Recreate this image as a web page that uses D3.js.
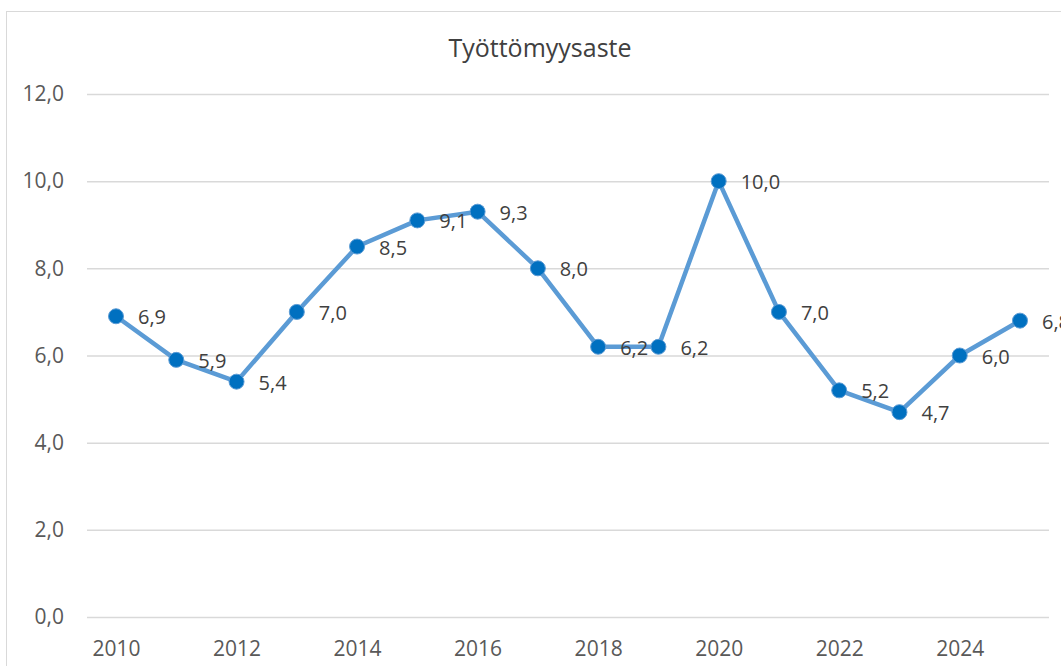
<!DOCTYPE html>
<html>
<head>
<meta charset="utf-8">
<script src="https://cdn.jsdelivr.net/npm/d3@7"></script>
<style>
  body { margin: 0; background: #fff; }
  svg { display: block; font-family: "Open Sans", "Noto Sans", sans-serif; }
</style>
</head>
<body>
<svg id="chart" width="1061" height="666"></svg>
<script>
// Data
const years = [2010, 2011, 2012, 2013, 2014, 2015, 2016, 2017, 2018, 2019, 2020, 2021, 2022, 2023, 2024, 2025];
const rates = [6.9, 5.9, 5.4, 7.0, 8.5, 9.1, 9.3, 8.0, 6.2, 6.2, 10.0, 7.0, 5.2, 4.7, 6.0, 6.8];
const yTicks = [0, 2, 4, 6, 8, 10, 12];
const xTicks = [2010, 2012, 2014, 2016, 2018, 2020, 2022, 2024];
const title = "Työttömyysaste";

const svg = d3.select("#chart");
const width = 1061, height = 666;

const fmt = v => d3.format(".1f")(v).replace(".", ",");

// chart border
svg.append("rect")
  .attr("x", 6.5).attr("y", 11.5)
  .attr("width", width + 10).attr("height", height + 10)
  .attr("fill", "none").attr("stroke", "#d9d9d9").attr("stroke-width", 1);

const x = d3.scaleLinear().domain([2010, 2025]).range([116, 1020]);
const y = d3.scaleLinear().domain([0, 12]).range([617, 94]);

// title
svg.append("text")
  .attr("x", 540).attr("y", 57)
  .attr("text-anchor", "middle")
  .attr("font-size", 25)
  .attr("fill", "#404040")
  .text(title);

// gridlines + y labels
const yAxis = svg.append("g")
  .attr("transform", "translate(87,0)")
  .call(d3.axisLeft(y).tickValues(yTicks).tickSize(-962).tickFormat(fmt).tickPadding(23));
yAxis.select(".domain").remove();
yAxis.selectAll("line").attr("stroke", "#d9d9d9").attr("stroke-width", 1.5);
yAxis.selectAll("text").attr("font-size", 21).attr("fill", "#595959")
  .attr("font-family", "\"Open Sans\", sans-serif");

// x labels
const xAxis = svg.append("g")
  .attr("transform", "translate(0,617)")
  .call(d3.axisBottom(x).tickValues(xTicks).tickSize(0).tickFormat(d3.format("d")).tickPadding(24));
xAxis.select(".domain").remove();
xAxis.selectAll("text").attr("font-size", 21).attr("fill", "#595959")
  .attr("font-family", "\"Open Sans\", sans-serif");

const data = years.map((yr, i) => ({ year: yr, value: rates[i] }));

// line
svg.append("path")
  .datum(data)
  .attr("fill", "none")
  .attr("stroke", "#5b9bd5")
  .attr("stroke-width", 4.5)
  .attr("stroke-linejoin", "round")
  .attr("d", d3.line().x(d => x(d.year)).y(d => y(d.value)));

// markers
svg.selectAll("circle.pt")
  .data(data)
  .join("circle")
  .attr("class", "pt")
  .attr("cx", d => x(d.year))
  .attr("cy", d => y(d.value))
  .attr("r", 7.5)
  .attr("fill", "#0070c0")
  .attr("stroke", "#5b9bd5")
  .attr("stroke-width", 1);

// data labels
svg.selectAll("text.lbl")
  .data(data)
  .join("text")
  .attr("class", "lbl")
  .attr("x", d => x(d.year) + 22)
  .attr("y", d => y(d.value) + 8)
  .attr("font-size", 20)
  .attr("fill", "#404040")
  .text(d => fmt(d.value));
</script>
</body>
</html>
